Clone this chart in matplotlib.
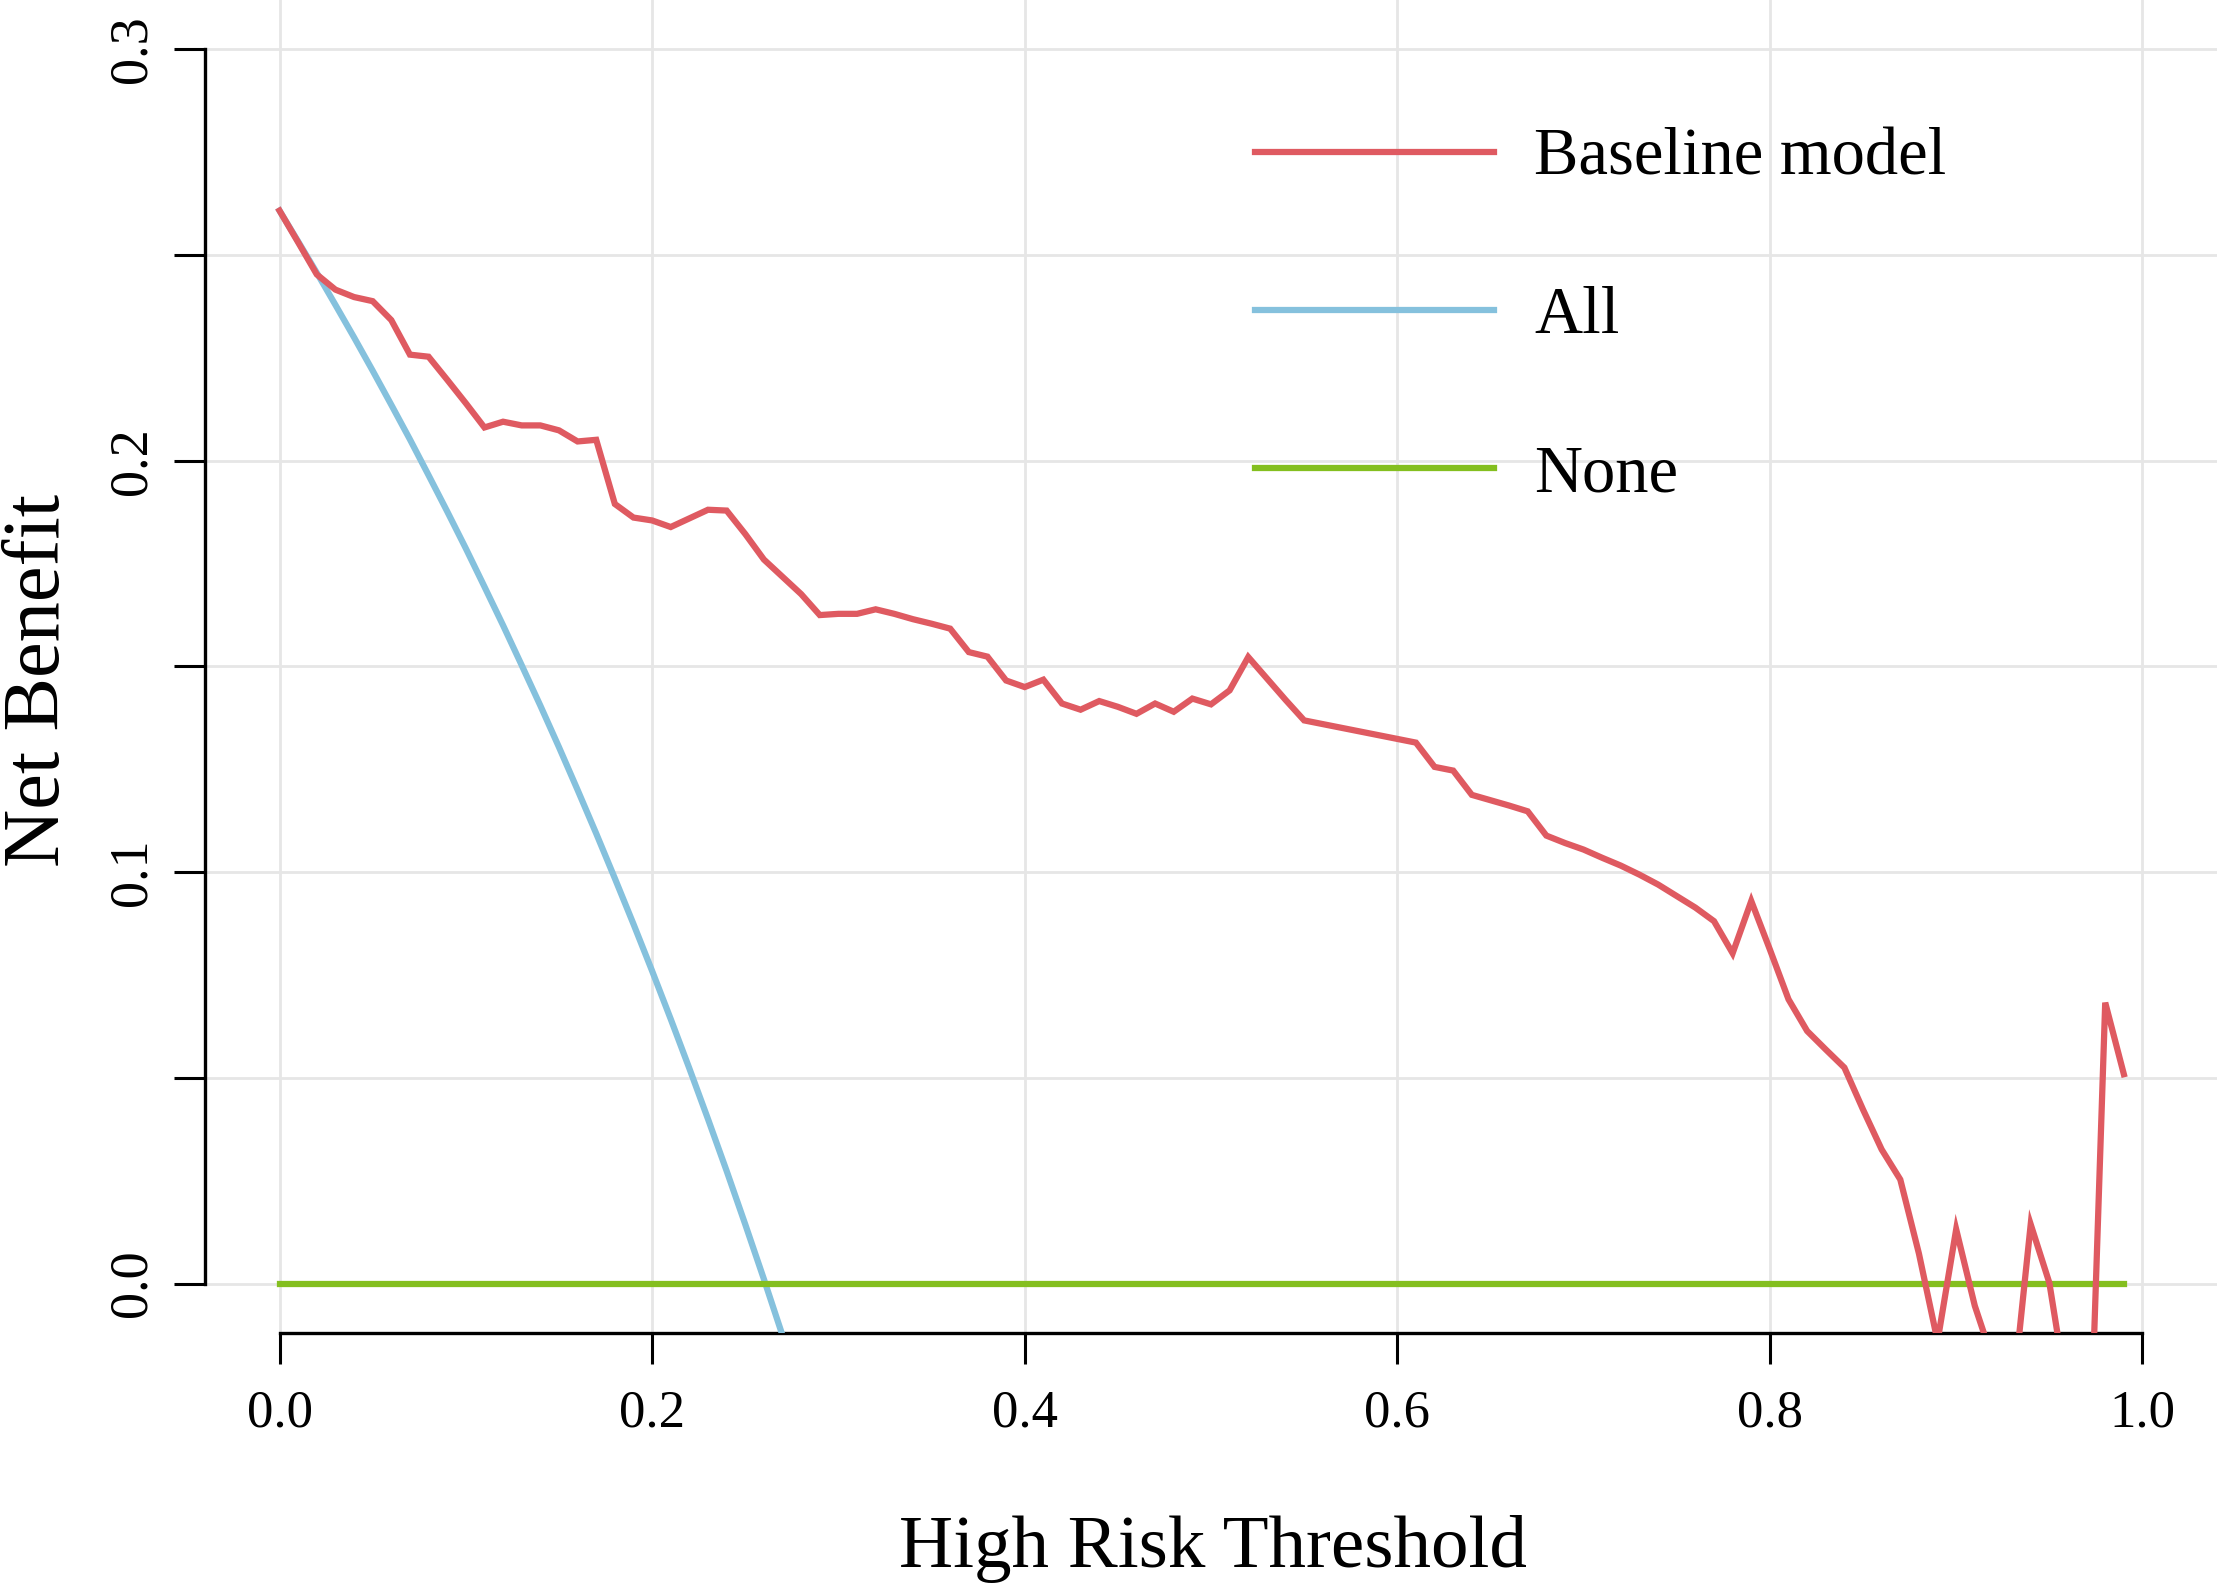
import matplotlib
matplotlib.use("Agg")
import matplotlib.pyplot as plt

plt.rcParams['font.family'] = ['Liberation Serif', 'DejaVu Serif']

thresholds = [i / 100 for i in range(100)]
baseline_model = [
    0.2608, 0.2531, 0.2453, 0.2416, 0.2398, 0.2388, 0.2342, 0.2258, 0.2253, 0.2197,
    0.2140, 0.2081, 0.2095, 0.2086, 0.2086, 0.2074, 0.2047, 0.2051, 0.1895, 0.1862,
    0.1855, 0.1839, 0.1860, 0.1881, 0.1879, 0.1822, 0.1760, 0.1718, 0.1676, 0.1625,
    0.1628, 0.1628, 0.1639, 0.1628, 0.1615, 0.1604, 0.1592, 0.1535, 0.1524, 0.1466,
    0.1450, 0.1468, 0.1410, 0.1395, 0.1416, 0.1402, 0.1385, 0.1410, 0.1390, 0.1422,
    0.1408, 0.1442, 0.1523, 0.1471, 0.1419, 0.1369, 0.1360, 0.1351, 0.1342, 0.1333,
    0.1324, 0.1315, 0.1256, 0.1247, 0.1188, 0.1175, 0.1162, 0.1148, 0.1089, 0.1071,
    0.1055, 0.1035, 0.1016, 0.0994, 0.0970, 0.0942, 0.0914, 0.0881, 0.0803, 0.0930,
    0.0812, 0.0691, 0.0614, 0.0569, 0.0525, 0.0423, 0.0326, 0.0253, 0.0073, -0.0140,
    0.0132, -0.0054, -0.0190, -0.0290, 0.0144, 0.0002, -0.0280, -0.0680, 0.0683, 0.0509,
]
all_thresholds = [i / 100 for i in range(29)]
treat_all = [
    0.2608, 0.2533, 0.2457, 0.2379, 0.2300, 0.2219, 0.2136, 0.2052, 0.1965, 0.1877,
    0.1787, 0.1694, 0.1600, 0.1503, 0.1405, 0.1304, 0.1200, 0.1094, 0.0985, 0.0874,
    0.0760, 0.0643, 0.0523, 0.0400, 0.0274, 0.0144, 0.0011, -0.0126, -0.0267,
]
none_thresholds = [0.0, 0.99]
treat_none = [0.0, 0.0]

labels = ["Baseline model", "All", "None"]
colors = ["#DF5A61", "#85C1DD", "#84BF1F"]

x_ticks = [0.0, 0.2, 0.4, 0.6, 0.8, 1.0]
x_ticklabels = ["0.0", "0.2", "0.4", "0.6", "0.8", "1.0"]
y_ticks = [0.0, 0.05, 0.1, 0.15, 0.2, 0.25, 0.3]
y_ticklabels = ["0.0", "", "0.1", "", "0.2", "", "0.3"]

fig = plt.figure(figsize=(22.17, 15.91), dpi=100)
ax = fig.add_axes([205 / 2217, 1 - 1333 / 1591, 1 - 205 / 2217, 1333 / 1591])

ax.set_xlim(-0.04, 1.04)
ax.set_ylim(-0.012, 0.312)

ax.set_xticks(x_ticks)
ax.set_yticks(y_ticks)
ax.grid(True, color="#E6E6E6", linewidth=2.0)
ax.set_axisbelow(True)

lw = 4.5
l1, = ax.plot(thresholds, baseline_model, color=colors[0], lw=lw, zorder=4, solid_joinstyle='miter')
l2, = ax.plot(all_thresholds, treat_all, color=colors[1], lw=lw, zorder=3)
l3, = ax.plot(none_thresholds, treat_none, color=colors[2], lw=lw, zorder=3)

for s in ["top", "right"]:
    ax.spines[s].set_visible(False)
ax.spines["left"].set_bounds(0, 0.3)
ax.spines["bottom"].set_bounds(0, 1)
for s in ["left", "bottom"]:
    ax.spines[s].set_linewidth(2.4)

ax.tick_params(axis='both', direction='out', length=22, width=2.2, color='black')
ax.tick_params(axis='x', pad=19, labelsize=38)
ax.tick_params(axis='y', pad=12, labelsize=39)
ax.set_xticklabels(x_ticklabels)
ax.set_yticklabels(y_ticklabels, rotation=90, va='center')

fig.text(1213 / 2217, 1 - 1567 / 1591, "High Risk Threshold", ha='center', va='baseline', fontsize=54)
fig.text(40 / 2217, 1 - 680 / 1591, "Net Benefit", ha='center', va='center', rotation=90, fontsize=58)

leg = ax.legend([l1, l2, l3], labels, loc='upper left', bbox_to_anchor=(0.522, 0.904),
                frameon=False, fontsize=48, handlelength=3.58, handletextpad=0.6,
                labelspacing=1.46, borderpad=0, borderaxespad=0)
for h in leg.legend_handles:
    h.set_linewidth(lw)

fig.savefig("out.png", dpi=100)
